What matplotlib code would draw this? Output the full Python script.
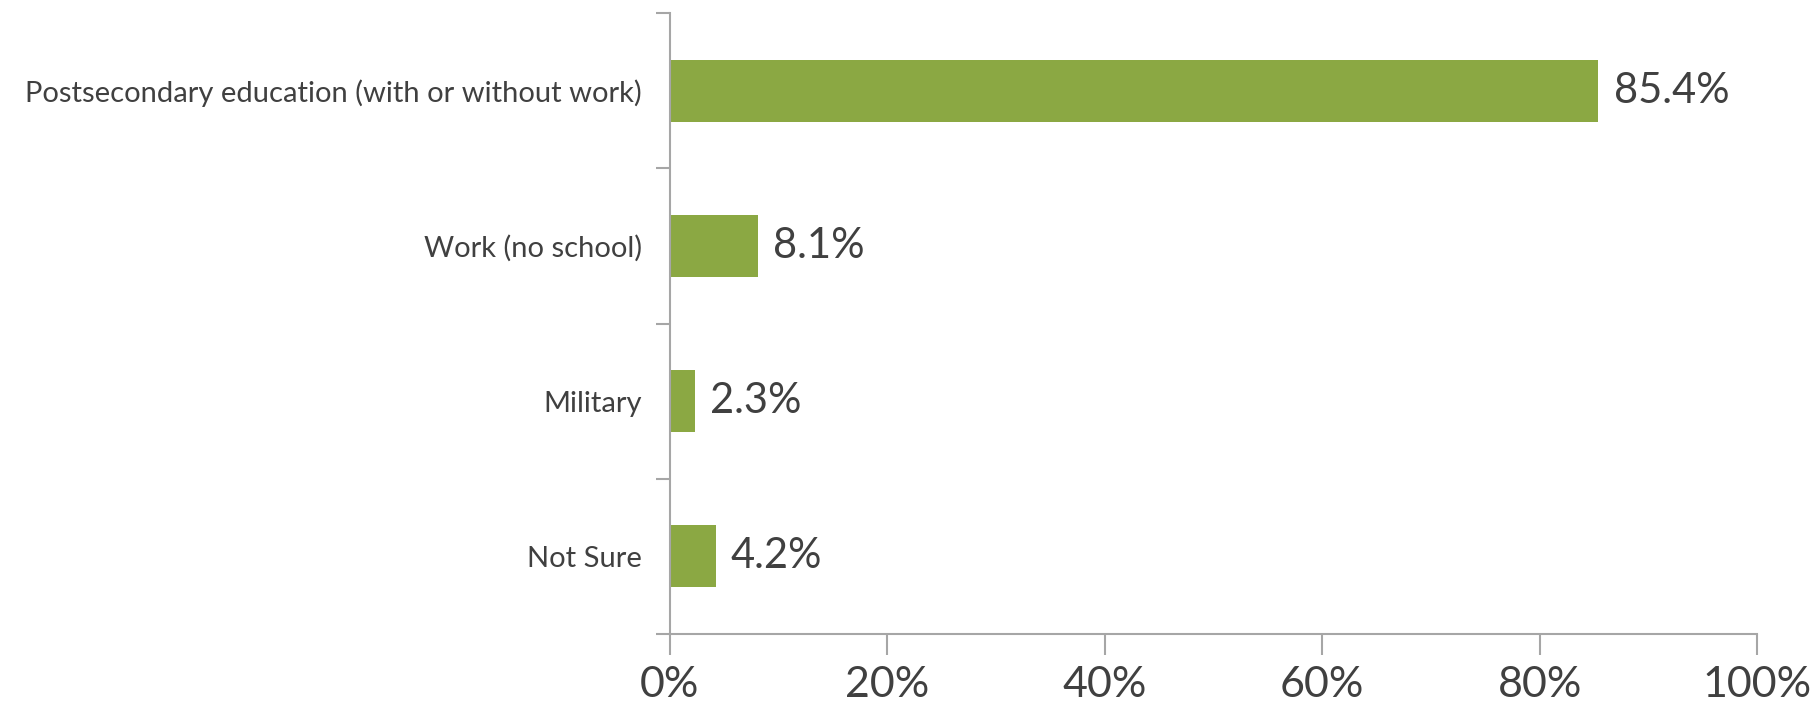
import matplotlib
matplotlib.use('Agg')
import matplotlib.pyplot as plt
import numpy as np

categories = [
    'Postsecondary education (with or without work)',
    'Work (no school)',
    'Military',
    'Not Sure',
]
values = [85.4, 8.1, 2.3, 4.2]
x_ticks = [0, 20, 40, 60, 80, 100]

plt.rcParams['font.family'] = ['Lato', 'DejaVu Sans']

bar_color = '#8BA843'
text_color = '#404040'
axis_color = '#A6A6A6'

fig = plt.figure(figsize=(18.14, 7.14), dpi=100)
ax = fig.add_axes([0.3693, 0.112, 0.5993, 0.8698])

pos = np.arange(len(categories))
ax.barh(pos, values, height=0.4, color=bar_color)

for p, v in zip(pos, values):
    ax.text(v + 1.4, p, f'{v:.1f}%', va='center', ha='left',
            fontsize=30, color=text_color)

ax.set_xlim(0, 100)
ax.set_ylim(len(categories) - 0.5, -0.5)

ax.set_xticks(x_ticks)
ax.set_xticklabels([f'{t}%' for t in x_ticks], fontsize=31, color=text_color)

# category labels at the centres, tick marks on the boundaries
ax.set_yticks(pos)
ax.set_yticklabels(categories, fontsize=21, color=text_color)
ax.tick_params(axis='y', which='major', length=0, pad=20)
ax.set_yticks(np.arange(len(categories) + 1) - 0.5, minor=True)
ax.tick_params(axis='y', which='minor', length=10, color=axis_color, width=1.5)
ax.tick_params(axis='x', length=15, color=axis_color, width=1.5, pad=8)

for side in ['top', 'right']:
    ax.spines[side].set_visible(False)
for side in ['left', 'bottom']:
    ax.spines[side].set_color(axis_color)
    ax.spines[side].set_linewidth(1.5)

plt.savefig('out.png', dpi=100)
